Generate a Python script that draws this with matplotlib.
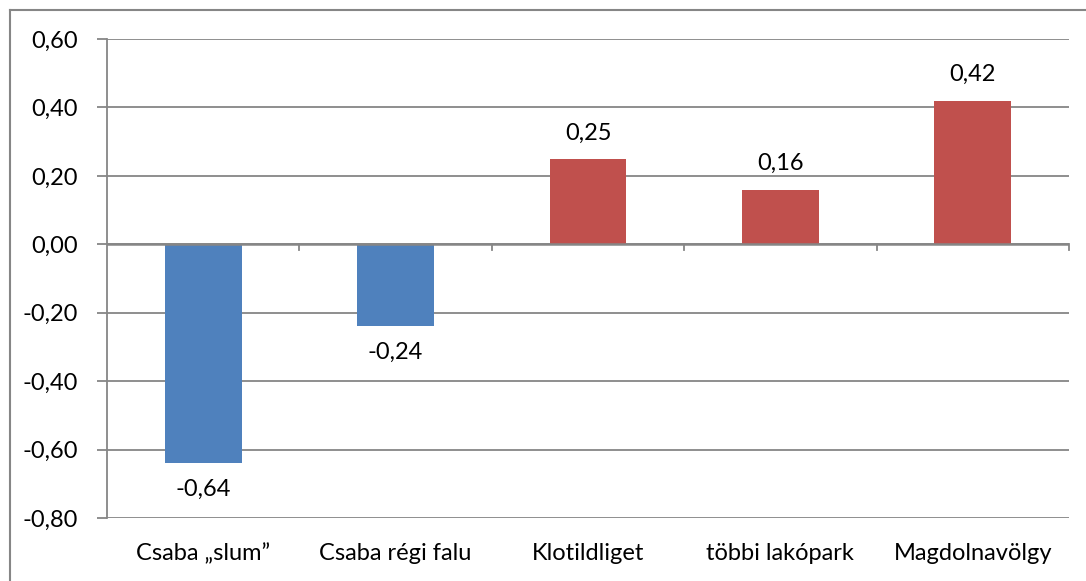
import matplotlib
matplotlib.use("Agg")
import matplotlib.pyplot as plt
from matplotlib.lines import Line2D

categories = ["Csaba „slum”", "Csaba régi falu", "Klotildliget", "többi lakópark", "Magdolnavölgy"]
values = [-0.64, -0.24, 0.25, 0.16, 0.42]
labels = ["-0,64", "-0,24", "0,25", "0,16", "0,42"]
yticks = [-0.8, -0.6, -0.4, -0.2, 0.0, 0.2, 0.4, 0.6]
ytick_labels = ["-0,80", "-0,60", "-0,40", "-0,20", "0,00", "0,20", "0,40", "0,60"]

blue = "#4F81BD"
red = "#C0504D"
grid = "#868686"

plt.rcParams['font.family'] = ['Lato', 'DejaVu Sans']
FS = 17

fig = plt.figure(figsize=(10.86, 5.81), dpi=100)
ax = fig.add_axes([107/1086, 1 - 518/581, (1069-107)/1086, (518-39)/581])

x = list(range(len(categories)))
colors = [blue if v < 0 else red for v in values]
ax.bar(x, values, width=0.4, color=colors, zorder=3)

ax.set_xlim(-0.5, len(categories) - 0.5)
ax.set_ylim(-0.8, 0.6)
ax.set_yticks(yticks)
ax.set_yticklabels(ytick_labels, fontsize=FS)
ax.yaxis.grid(True, color=grid, linewidth=1.3, zorder=0)
ax.set_axisbelow(True)

for s in ["top", "right", "bottom"]:
    ax.spines[s].set_visible(False)
ax.spines["left"].set_color(grid)
ax.spines["left"].set_linewidth(1.3)
ax.tick_params(axis='y', length=7, width=1.3, color=grid, pad=14)

# x axis at zero
ax.axhline(0, color=grid, linewidth=1.8, zorder=4)
ax.set_xticks([])
for b in [i + 0.5 for i in range(len(categories))]:
    ax.plot([b, b], [0, -0.018], color=grid, linewidth=1.3, zorder=4, clip_on=False)

for i, c in enumerate(categories):
    ax.text(i, -0.8 - 0.103, c, ha='center', va='center', fontsize=FS, color='black')

for i, (v, l) in enumerate(zip(values, labels)):
    if v >= 0:
        ax.text(i, v + 0.045, l, ha='center', va='bottom', fontsize=FS)
    else:
        ax.text(i, v - 0.045, l, ha='center', va='top', fontsize=FS)

# outer border (top and left visible)
fig.add_artist(Line2D([10/1086, 1.01], [1 - 9.5/581, 1 - 9.5/581], transform=fig.transFigure, color=grid, linewidth=1.5))
fig.add_artist(Line2D([10/1086, 10/1086], [1 - 9.5/581, -0.01], transform=fig.transFigure, color=grid, linewidth=1.5))

fig.savefig("out.png", dpi=100)
